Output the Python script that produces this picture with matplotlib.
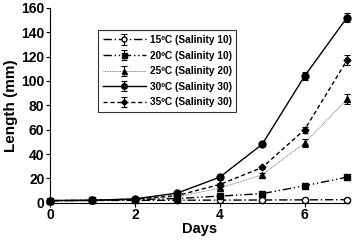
import matplotlib
matplotlib.use("Agg")
import matplotlib.pyplot as plt

plt.rcParams["font.family"] = ["Liberation Sans", "DejaVu Sans"]
plt.rcParams["font.weight"] = "bold"

days = [0, 1, 2, 3, 4, 5, 6, 7]
labels = ["15\u00baC (Salinity 10)", "20\u00baC (Salinity 10)", "25\u00baC (Salinity 20)",
          "30\u00baC (Salinity 30)", "35\u00baC (Salinity 30)"]
len_15 = [1.8, 1.9, 2.0, 2.1, 2.2, 2.3, 2.4, 2.6]
len_20 = [1.8, 2.0, 2.6, 3.5, 5.5, 7.5, 14, 21]
len_25 = [1.8, 2.0, 2.8, 5.0, 12, 23, 49, 85]
len_30 = [1.8, 2.1, 3.2, 8.0, 21, 48, 104, 152]
len_35 = [1.8, 2.0, 3.0, 6.0, 15, 29, 60, 117]
err_15 = [0.2, 0.2, 0.2, 0.2, 0.3, 0.3, 0.3, 0.3]
err_20 = [0.2, 0.2, 0.3, 0.4, 0.6, 0.8, 1.2, 1.5]
err_25 = [0.2, 0.2, 0.3, 0.5, 1.0, 1.5, 3.0, 4.0]
err_30 = [0.2, 0.2, 0.3, 0.6, 1.0, 1.5, 3.0, 4.0]
err_35 = [0.2, 0.2, 0.3, 0.5, 1.0, 1.5, 2.5, 4.0]

fig = plt.figure(figsize=(3.52, 2.40), dpi=100)
ax = fig.add_axes([0.142, 0.155, 0.85, 0.8125])

styles = [
    dict(linestyle=(0, (6, 2, 1, 2)), marker="o", mfc="white", ms=4.5, lw=1.0),
    dict(linestyle=(0, (6, 2, 1, 2, 1, 2)), marker="s", mfc="black", ms=4.5, lw=1.0),
    dict(linestyle=(0, (1, 1)), marker="^", mfc="black", ms=4.5, lw=0.6, color="0.35"),
    dict(linestyle="-", marker="o", mfc="black", ms=5, lw=1.0),
    dict(linestyle=(0, (3, 2)), marker="D", mfc="black", ms=3.5, lw=1.0),
]
series = [len_15, len_20, len_25, len_30, len_35]
errs = [err_15, err_20, err_25, err_30, err_35]

for vals, err, lab, st in zip(series, errs, labels, styles):
    color = st.pop("color", "black")
    ax.errorbar(days, vals, yerr=err, color=color, mec="black", ecolor="black",
                capsize=2.5, elinewidth=0.8, capthick=0.8, label=lab, clip_on=False, **st)

ax.set_xlim(0, 7.05)
ax.set_ylim(0, 160)
ax.set_xticks([0, 2, 4, 6])
ax.set_yticks(range(0, 161, 20))
ax.spines["top"].set_visible(False)
ax.spines["right"].set_visible(False)
ax.tick_params(labelsize=10, length=3, width=0.8, pad=1)
ax.set_xlabel("Days", fontsize=10.5, fontweight="bold", labelpad=0)
ax.set_ylabel("Length (mm)", fontsize=11, fontweight="bold", labelpad=2)

leg = ax.legend(loc="upper left", bbox_to_anchor=(0.145, 0.91), fontsize=7.3,
                frameon=True, fancybox=False, edgecolor="black", handlelength=4.2,
                borderpad=0.45, labelspacing=0.55, handletextpad=0.4, markerscale=0.8)
leg.get_frame().set_linewidth(0.8)

fig.savefig("out.png", dpi=100)
